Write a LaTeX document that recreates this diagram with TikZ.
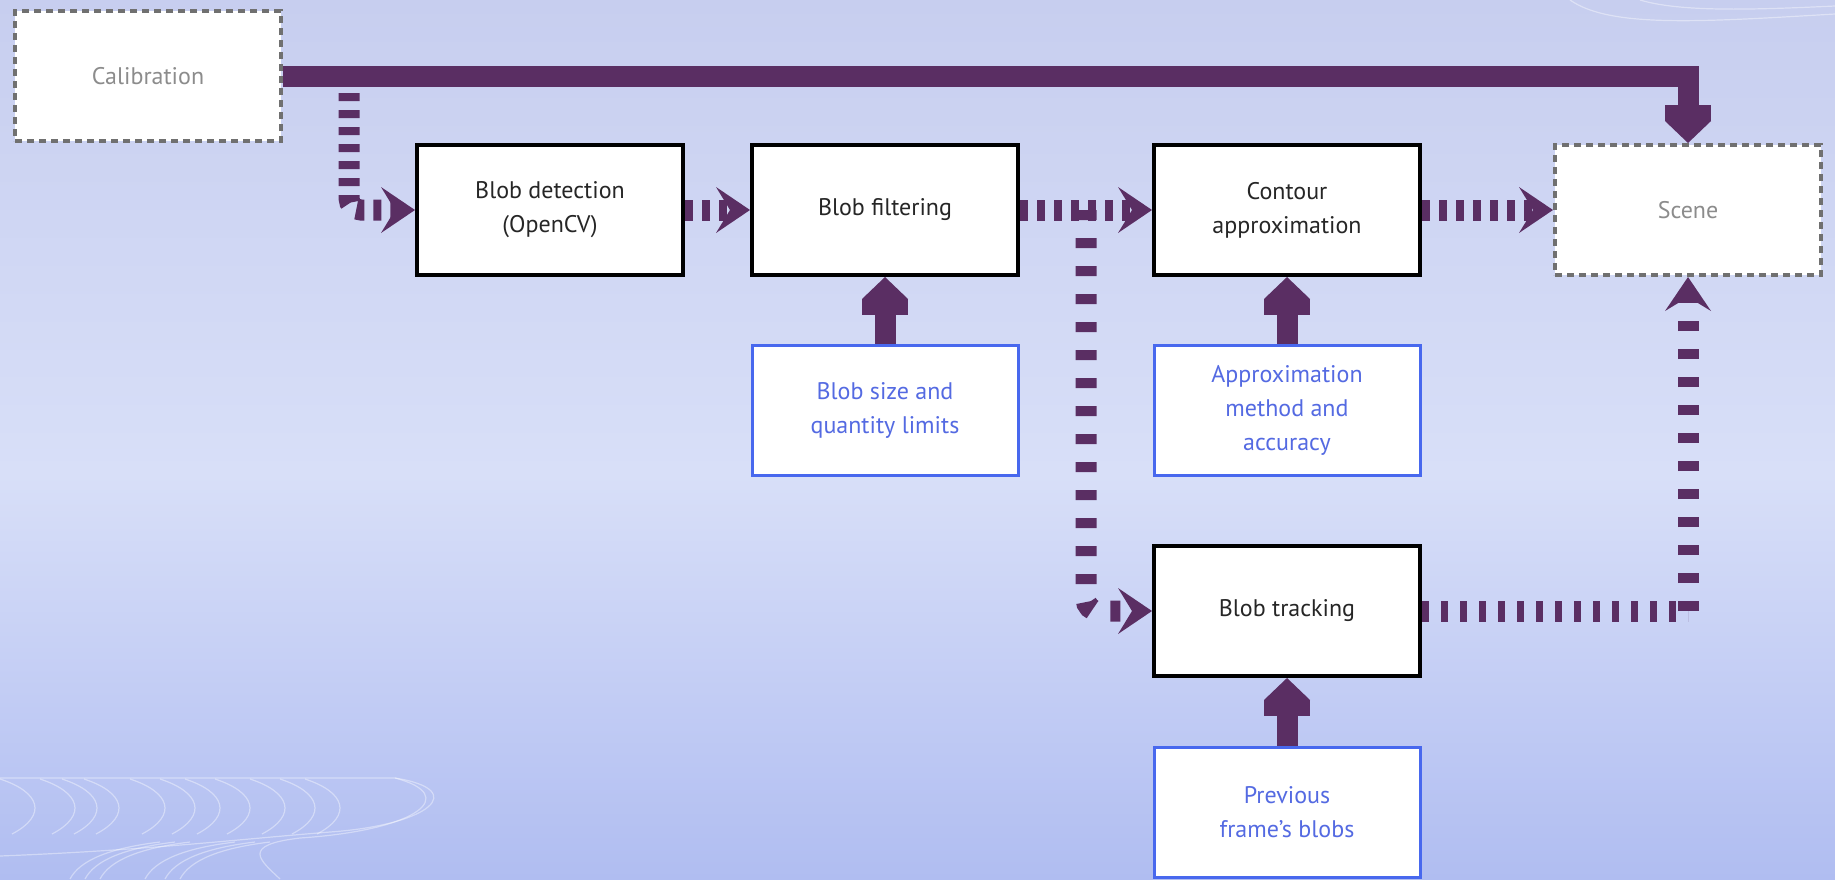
\documentclass[tikz,border=0pt]{standalone}
\usepackage{fontspec}
\setmainfont{PT Sans}
\usepackage{tikz}
\usetikzlibrary{arrows.meta, positioning, calc}

\definecolor{flow}{RGB}{90,46,99}
\definecolor{parblue}{RGB}{72,104,238}
\definecolor{partext}{RGB}{84,106,226}
\definecolor{ghostgray}{RGB}{112,112,112}
\definecolor{bgtop}{RGB}{199,206,239}
\definecolor{bgmid}{RGB}{216,223,248}
\definecolor{bgbot}{RGB}{176,189,241}
\pgfdeclareverticalshading{bgshade}{100bp}{color(0bp)=(bgbot); color(25bp)=(bgbot); color(48bp)=(bgmid); color(75bp)=(bgtop); color(100bp)=(bgtop)}

\begin{document}
\begin{tikzpicture}[x=0.5pt, y=-0.5pt,
  font=\fontsize{12}{17}\selectfont,
  box/.style={draw=black, line width=2pt, fill=white, text=black!85, minimum width=133pt, minimum height=65pt, align=center, inner sep=0pt},
  ghost/.style={box, draw=ghostgray, dash pattern=on 3.5pt off 2.5pt, text=black!45},
  param/.style={box, draw=parblue, line width=1.5pt, text=partext},
  thickflow/.style={draw=flow, line width=10.5pt, -{Square[length=8pt, width=23pt, sep=0pt, line width=0pt] Triangle[length=11pt, width=23pt, sep=0pt, line width=0pt]}},
  dotflow/.style={draw=flow, line width=10.5pt, dash pattern=on 4pt off 4.5pt, -{Stealth[length=17pt, width=23pt, inset=7pt, line width=0pt]}},
  deco/.style={white, opacity=0.4, line width=0.6pt}
]
  % Fond
  \useasboundingbox (0,0) rectangle (1835,879);
  \shade[shading=bgshade] (0,0) rectangle (1835,879);
  \foreach \x in {0,40,62,84,130,160,185,215,250,280,305}
    \draw[deco] (\x,779) .. controls (\x+40,792) and (\x+48,815) .. (\x+12,834);
  \draw[deco] (0,778) -- (395,778) .. controls (470,790) and (430,825) .. (330,832) .. controls (230,840) and (150,850) .. (0,856);
  \draw[deco] (395,778) .. controls (460,795) and (420,830) .. (300,838) .. controls (240,845) and (260,860) .. (280,879);
  \foreach \x in {70,85,100,145,165,180}
    \draw[deco] (\x,879) .. controls (\x+10,860) and (\x+40,848) .. (\x+90,842);
  \draw[deco] (1570,0) .. controls (1610,28) and (1700,22) .. (1835,14);
  \draw[deco] (1640,0) .. controls (1680,12) and (1750,10) .. (1835,6);

  % Blocs
  \node[ghost] (cal) at (148,76) {Calibration};
  \node[box] (det) at (550,210) {Blob detection\\(OpenCV)};
  \node[box] (filt) at (885,210) {Blob filtering};
  \node[box] (cont) at (1287,210) {Contour\\approximation};
  \node[ghost] (scene) at (1688,210) {Scene};
  \node[box] (track) at (1287,611) {Blob tracking};
  % Parametres
  \node[param] (size) at (885,410) {Blob size and\\quantity limits};
  \node[param] (meth) at (1287,410) {Approximation\\method and\\accuracy};
  \node[param] (prev) at (1287,812) {Previous\\frame's blobs};

  % Points de branchement
  \coordinate (calsplit) at ($(cal.east)!0.5!(det.west |- cal.east) + (0,17)$);
  \coordinate (trksplit) at ($(filt.east)!0.5!(cont.west)$);
  \coordinate (trkcorner) at (scene.south |- track.east);

  % Flux principal
  \draw[thickflow] (cal.east) -| (scene.north);
  \draw[dotflow, rounded corners=6pt] (calsplit) |- (det.west);
  \draw[dotflow] (det.east) -- (filt.west);
  \draw[dotflow] (filt.east) -- (cont.west);
  \draw[dotflow] (cont.east) -- (scene.west);
  \draw[dotflow, rounded corners=6pt, dash pattern=on 5pt off 9pt] (trksplit) |- (track.west);
  \draw[dotflow, dash pattern=on 3.5pt off 6pt, -] (track.east) -- (trkcorner);
  \draw[dotflow, dash pattern=on 5pt off 9pt] (trkcorner) -- (scene.south);

  % Entrees de parametres
  \draw[thickflow] (size.north) -- (filt.south);
  \draw[thickflow] (meth.north) -- (cont.south);
  \draw[thickflow] (prev.north) -- (track.south);
\end{tikzpicture}
\end{document}
